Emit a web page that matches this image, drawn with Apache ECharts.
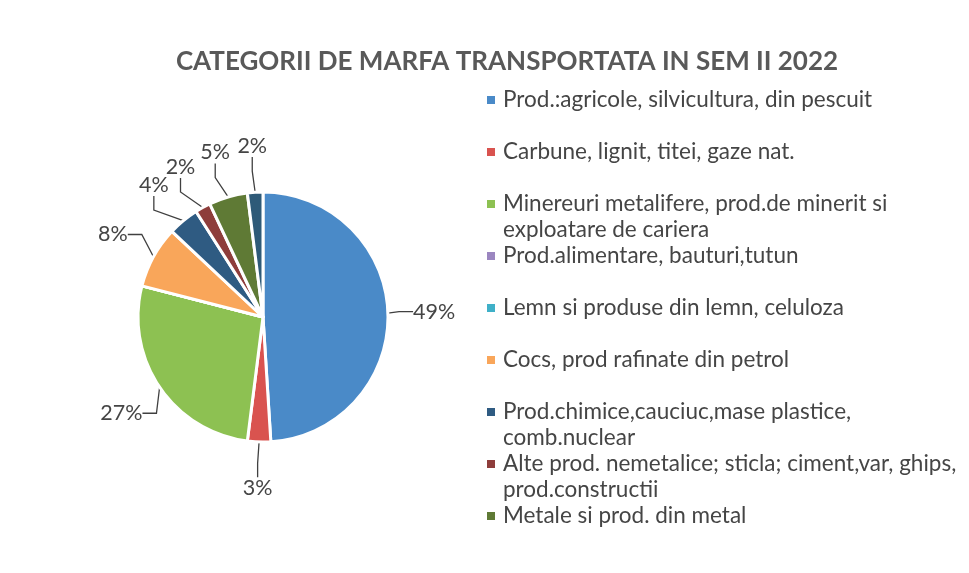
<!DOCTYPE html>
<html>
<head>
<meta charset="utf-8">
<script src="https://cdn.jsdelivr.net/npm/echarts@6/dist/echarts.min.js"></script>
<style>
html,body{margin:0;padding:0;background:#fff;}
#c{width:969px;height:573px;}
</style>
</head>
<body>
<div id="c"></div>
<script>
var titleText = 'CATEGORII DE MARFA TRANSPORTATA IN SEM II 2022';
var categories = [
  'Prod.:agricole, silvicultura, din pescuit',
  'Carbune, lignit, titei, gaze nat.',
  'Minereuri metalifere, prod.de minerit si\nexploatare de cariera',
  'Prod.alimentare, bauturi,tutun',
  'Lemn si produse din lemn, celuloza',
  'Cocs, prod rafinate din petrol',
  'Prod.chimice,cauciuc,mase plastice,\ncomb.nuclear',
  'Alte prod. nemetalice; sticla; ciment,var, ghips,\nprod.constructii',
  'Metale si prod. din metal',
  'Altele'
];
var values = [49, 3, 27, 0, 0, 8, 4, 2, 5, 2];
var colors = ['#4a8ac8', '#d9534f', '#8dc152', '#9b86c0', '#3fb0c8', '#f9a65a', '#2f5b82', '#8e3d3b', '#5f7a35', '#2e5a78'];
var legendCount = 9;

var chart = echarts.init(document.getElementById('c'));
var LH = 26;
var rich = {
  t: { fontFamily: 'Lato', fontSize: 22.5, color: '#454545', lineHeight: LH },
  g: { width: 8, lineHeight: LH }
};
colors.forEach(function (c, i) {
  rich['m' + i] = { width: 8, height: 8, backgroundColor: c, verticalAlign: 'middle', lineHeight: LH };
});
var data = categories.map(function (n, i) {
  var d = { name: n, value: values[i], itemStyle: { color: colors[i] } };
  if (values[i] === 0) { d.label = { show: false }; d.labelLine = { show: false }; }
  return d;
});

// place each label radially outward from its slice's mid angle (layout taken from the library)
var labelDist = 1.37;
function layoutLabel(params) {
  var sd = chart.getModel().getSeriesByIndex(0).getData();
  var lay = sd.getItemLayout(params.dataIndex);
  if (!lay) return {};
  var mid = (lay.startAngle + lay.endAngle) / 2;
  var d = lay.r * labelDist;
  return {
    x: lay.cx + d * Math.cos(mid),
    y: lay.cy + d * Math.sin(mid),
    align: 'center',
    verticalAlign: 'middle',
    fontSize: 21.5
  };
}

chart.setOption({
  backgroundColor: '#ffffff',
  animation: false,
  title: {
    text: titleText,
    left: 502, top: 44, textAlign: 'center',
    textStyle: { fontFamily: 'Lato', fontWeight: 'bold', fontSize: 26, color: '#595959' }
  },
  legend: {
    orient: 'vertical',
    left: 476, top: 82,
    itemWidth: 0, itemHeight: 0, itemGap: 0,
    icon: 'rect',
    data: categories.slice(0, legendCount),
    formatter: function (name) {
      var i = categories.indexOf(name);
      var lines = name.split('\n');
      var s = '{m' + i + '|}{g|}{t|' + lines[0] + '}';
      s += '\n{g|}{g|}{t|' + (lines[1] || ' ') + '}';
      return s;
    },
    textStyle: { rich: rich, lineHeight: LH },
    selectedMode: false
  },
  series: [{
    type: 'pie',
    center: [263, 317],
    radius: 125,
    startAngle: 90,
    clockwise: true,
    data: data,
    itemStyle: { borderColor: '#ffffff', borderWidth: 3 },
    label: {
      formatter: '{c}%',
      fontFamily: 'Lato', fontSize: 21.5, color: '#454545'
    },
    labelLine: { length: 14, length2: 14, lineStyle: { color: '#404040', width: 1.3 } },
    labelLayout: layoutLabel,
    emphasis: { disabled: true }
  }]
});
</script>
</body>
</html>
